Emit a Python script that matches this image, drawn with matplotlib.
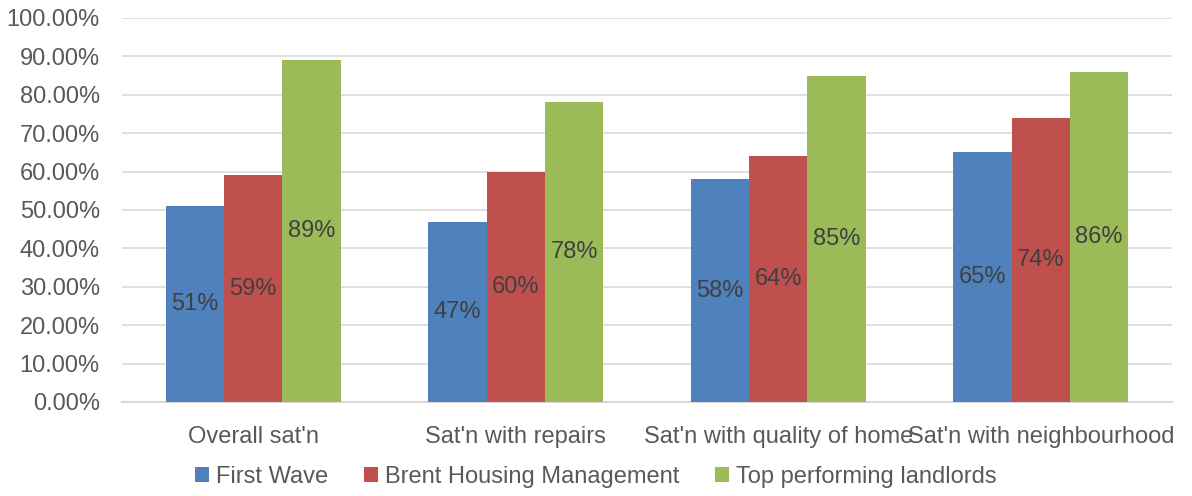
import matplotlib
matplotlib.use("Agg")
import matplotlib.pyplot as plt
import numpy as np
from matplotlib.ticker import FuncFormatter, MultipleLocator
from matplotlib.patches import Patch

categories = ["Overall sat'n", "Sat'n with repairs", "Sat'n with quality of home", "Sat'n with neighbourhood"]
series_names = ["First Wave", "Brent Housing Management", "Top performing landlords"]
first_wave = [51, 47, 58, 65]
brent = [59, 60, 64, 74]
top_landlords = [89, 78, 85, 86]
colors = ["#4F81BD", "#C0504D", "#9BBB59"]

plt.rcParams['font.family'] = ['Liberation Sans', 'DejaVu Sans']
FS = 17

fig = plt.figure(figsize=(11.92, 4.96), dpi=100)
ax = fig.add_axes([122/1192, 1-402/496, 1050/1192, 384/496])

x = np.arange(len(categories))
w = 0.222
all_series = [first_wave, brent, top_landlords]
for i, (vals, c) in enumerate(zip(all_series, colors)):
    xs = x + (i - 1) * w
    ax.bar(xs, vals, width=w, color=c, zorder=3)
    for xi, v in zip(xs, vals):
        ax.text(xi, v / 2, f"{v}%", ha="center", va="center", fontsize=FS, color="#404040", zorder=4)

ax.set_xlim(-0.5, 3.5)
ax.set_ylim(0, 100)
ax.yaxis.set_major_locator(MultipleLocator(10))
ax.yaxis.set_major_formatter(FuncFormatter(lambda v, p: f"{v:.2f}%"))
ax.grid(axis="y", color="#D9D9D9", linewidth=1.2, zorder=0)
ax.set_axisbelow(True)
for s in ["left", "right", "top"]:
    ax.spines[s].set_visible(False)
ax.spines["bottom"].set_color("#D9D9D9")
ax.spines["bottom"].set_linewidth(1.5)
ax.set_xticks(x)
ax.set_xticklabels(categories)
ax.tick_params(axis="x", length=0, pad=17, labelsize=FS, labelcolor="#595959")
ax.tick_params(axis="y", length=0, pad=16, labelsize=FS, labelcolor="#595959")

handles = [Patch(facecolor=c, edgecolor="none") for c in colors]
fig.legend(handles, series_names, loc="center", bbox_to_anchor=(0.5, 1-477/496),
           ncol=3, frameon=False, fontsize=FS, labelcolor="#595959",
           handlelength=0.6, handleheight=0.6, handletextpad=0.3, columnspacing=1.5)

fig.savefig("out.png", dpi=100)
